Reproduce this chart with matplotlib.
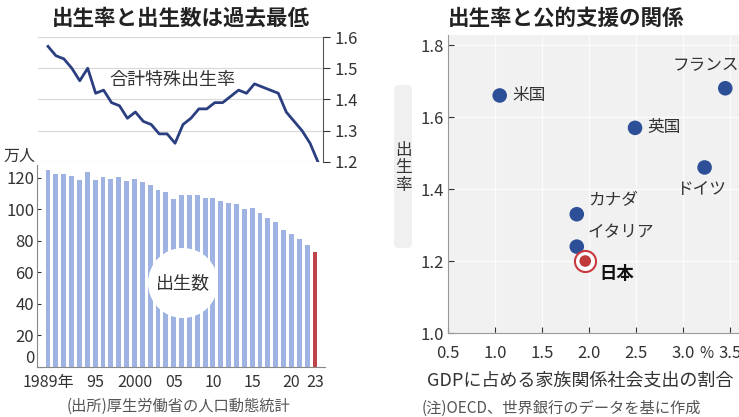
import matplotlib
matplotlib.use('Agg')
import matplotlib.pyplot as plt
from matplotlib.patches import Circle, FancyBboxPatch
from matplotlib.transforms import IdentityTransform

plt.rcParams['font.family'] = ['Noto Sans CJK JP', 'DejaVu Sans']

# left panel data
years = list(range(1989, 2024))
births = [124.7, 122.2, 122.3, 120.9, 118.8, 123.8, 118.7, 120.7, 119.2, 120.3,
          117.8, 119.1, 117.1, 115.4, 112.4, 111.1, 106.3, 109.3, 109.0, 109.1,
          107.0, 107.1, 105.1, 103.7, 103.0, 100.4, 100.6, 97.7, 94.6, 91.8,
          86.5, 84.1, 81.2, 77.1, 72.7]
tfr = [1.57, 1.54, 1.53, 1.50, 1.46, 1.50, 1.42, 1.43, 1.39, 1.38,
       1.34, 1.36, 1.33, 1.32, 1.29, 1.29, 1.26, 1.32, 1.34, 1.37,
       1.37, 1.39, 1.39, 1.41, 1.43, 1.42, 1.45, 1.44, 1.43, 1.42,
       1.36, 1.33, 1.30, 1.26, 1.20]
year_ticks = [1989, 1995, 2000, 2005, 2010, 2015, 2020, 2023]
year_labels = ['1989年', '95', '2000', '05', '10', '15', '20', '23']

# right panel data
countries = ['米国', '英国', 'フランス', 'ドイツ', 'カナダ', 'イタリア']
spend = [1.05, 2.49, 3.45, 3.23, 1.87, 1.87]
rate = [1.66, 1.57, 1.68, 1.46, 1.33, 1.24]
japan_spend, japan_rate = 1.96, 1.20

W, H = 739, 417
fig = plt.figure(figsize=(W / 100, H / 100), dpi=100)

def box(l, t, r, b):
  return [l / W, 1 - b / H, (r - l) / W, (b - t) / H]

def ft(x, y, s, **kw):
  return fig.text(x / W, 1 - y / H, s, **kw)

navy = '#2b3f80'
dot = '#2c4f97'
grey = '#333333'

# --- line chart (birth rate)
ax1 = fig.add_axes(box(38, 37, 323, 162))
ax1.plot(years, tfr, color=navy, lw=2)
ax1.set_xlim(1987.74, 2023.63)
ax1.set_ylim(1.2, 1.6)
ax1.set_yticks([1.2, 1.3, 1.4, 1.5, 1.6])
ax1.yaxis.tick_right()
ax1.tick_params(axis='y', labelsize=12, length=5, width=0.8, colors=grey, pad=3)
ax1.set_xticks([])
ax1.grid(axis='y', color='#d8d8d8', lw=0.8)
for s in ['top', 'left', 'bottom']:
  ax1.spines[s].set_visible(False)
ax1.spines['right'].set_color('#555555')
ax1.spines['right'].set_linewidth(0.8)
ax1.patch.set_alpha(0)

# --- bar chart (births)
ax2 = fig.add_axes(box(37, 165, 325, 367))
colors = ['#9fb3e3'] * (len(years) - 1) + ['#c0454a']
ax2.bar(years, births, width=0.62, color=colors)
ax2.set_xlim(1987.6, 2024.27)
ax2.set_ylim(0, 128)
ax2.set_yticks(range(0, 121, 20))
ax2.set_xticks(year_ticks)
ax2.set_xticklabels(year_labels)
ax2.tick_params(axis='y', labelsize=12, length=3, direction='in', colors=grey, pad=2)
ax2.tick_params(axis='x', labelsize=11.5, length=0, colors=grey, pad=5)
ax2.get_yticklabels()[0].set_va('bottom')
for s in ['top', 'right']:
  ax2.spines[s].set_visible(False)
ax2.spines['left'].set_color('#888888')
ax2.spines['bottom'].set_color('#888888')
ax2.patch.set_alpha(0)

fig.add_artist(Circle((183, H - 283), 35, transform=IdentityTransform(),
                      fc='white', ec='none', zorder=5))
ft(183, 283, '出生数', fontsize=13, ha='center', va='center', color=grey, zorder=6)
ft(172, 80, '合計特殊出生率', fontsize=13, ha='center', va='center', color=grey)
ft(19, 156, '万人', fontsize=11.5, ha='center', va='center', color=grey)
ft(181, 18, '出生率と出生数は過去最低', fontsize=15.5, fontweight='bold',
   ha='center', va='center', color='#222222')
ft(179, 406, '(出所)厚生労働省の人口動態統計', fontsize=11, ha='center', va='center',
   color='#555555')

# --- scatter (birth rate vs family spending)
ax3 = fig.add_axes(box(448, 35, 739, 333))
ax3.set_facecolor('#f1f1f1')
ax3.scatter(spend, rate, s=110, color=dot, zorder=3, edgecolor='none')
ax3.scatter([japan_spend], [japan_rate], s=230, facecolor='white',
            edgecolor='#c9383e', lw=1.5, zorder=3)
ax3.scatter([japan_spend], [japan_rate], s=70, color='#c0393b', zorder=4,
            edgecolor='none')
ax3.set_xlim(0.5, 3.596)
ax3.set_ylim(1.0, 1.828)
ax3.set_xticks([0.5, 1.0, 1.5, 2.0, 2.5, 3.0, 3.5])
ax3.set_xticklabels(['0.5', '1.0', '1.5', '2.0', '2.5', '3.0', '3.5'])
ax3.set_yticks([1.0, 1.2, 1.4, 1.6, 1.8])
ax3.tick_params(labelsize=12, length=4, direction='in', colors=grey)
ax3.tick_params(axis='x', pad=9)
ax3.tick_params(axis='y', pad=3)
ax3.grid(color='#fbfbfb', lw=1)
ax3.set_axisbelow(True)
for s in ['top', 'right']:
  ax3.spines[s].set_visible(False)
ax3.spines['left'].set_color('#999999')
ax3.spines['bottom'].set_color('#999999')

offsets = {
  '米国': (9, 0, 'left', 'center'),
  '英国': (9, 0, 'left', 'center'),
  'フランス': (10, 10, 'right', 'bottom'),
  'ドイツ': (15, -10, 'right', 'top'),
  'カナダ': (8, 4, 'left', 'bottom'),
  'イタリア': (8, 4, 'left', 'bottom'),
}
for name, x, y in zip(countries, spend, rate):
  dx, dy, ha, va = offsets[name]
  ax3.annotate(name, (x, y), xytext=(dx, dy), textcoords='offset points',
               fontsize=12, ha=ha, va=va, color=grey)
ax3.annotate('日本', (japan_spend, japan_rate), xytext=(10, -3),
             textcoords='offset points', fontsize=12.5, fontweight='bold',
             ha='left', va='top', color='#111111')

ft(706, 353, '%', fontsize=11, ha='center', va='center', color=grey)
fig.add_artist(FancyBboxPatch((394, H - 248), 18, 163, boxstyle='round,pad=0,rounding_size=5',
                              transform=IdentityTransform(), fc='#f0f0f0', ec='none',
                              zorder=0))
ft(403, 168, '出\n生\n率', fontsize=12, ha='center', va='center', color=grey,
   linespacing=1.05)
ft(566, 18, '出生率と公的支援の関係', fontsize=15.5, fontweight='bold',
   ha='center', va='center', color='#222222')
ft(580, 381, 'GDPに占める家族関係社会支出の割合', fontsize=13, ha='center',
   va='center', color=grey)
ft(422, 408, '(注)OECD、世界銀行のデータを基に作成', fontsize=11, ha='left',
   va='center', color='#555555')

fig.savefig('out.png', dpi=100)
